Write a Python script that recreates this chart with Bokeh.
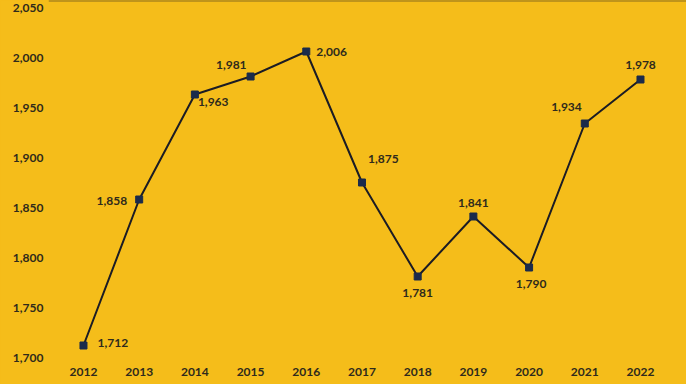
from bokeh.plotting import figure
from bokeh.models import ColumnDataSource, Range1d, FixedTicker, CustomJSTickFormatter, Span
from bokeh.core.properties import value
from bokeh.embed import file_html
from bokeh.resources import INLINE

years = [2012, 2013, 2014, 2015, 2016, 2017, 2018, 2019, 2020, 2021, 2022]
counts = [1712, 1858, 1963, 1981, 2006, 1875, 1781, 1841, 1790, 1934, 1978]
y_ticks = [1700, 1750, 1800, 1850, 1900, 1950, 2000, 2050]

# label placement (pixel offsets relative to each point)
lab_dx = [14, -12, 3, -4, 10, 6, 0, 0, 2, -3, 0]
lab_dy = [-3, 1, 7, -12, 0, -24, 16, -14, 16, -17, -15]
lab_align = ["left", "right", "left", "right", "left", "left", "center", "center", "center", "right", "center"]

BG = "#F5BD1A"
TXT = "#2F2A1C"

labels = ["{:,}".format(v) for v in counts]
src = ColumnDataSource(dict(x=years, y=counts, lab=labels, dx=lab_dx, dy=lab_dy, al=lab_align))

p = figure(width=686, height=384, output_backend="svg", toolbar_location=None,
           x_range=Range1d(2011.372, 2022.826), y_range=Range1d(1695, 2057),
           min_border_left=48, min_border_right=0, min_border_top=0, min_border_bottom=22)
p.background_fill_color = BG
p.border_fill_color = BG
p.outline_line_color = None
p.xgrid.visible = False
p.ygrid.visible = False

p.line("x", "y", source=src, line_color="#1C1C24", line_width=2)
p.scatter("x", "y", source=src, marker="square", size=7, fill_color="#1B2B4B", line_color="#1B2B4B")
p.text("x", "y", text="lab", source=src, x_offset="dx", y_offset="dy", text_align="al",
       text_baseline="middle", text_font=value("Lato"), text_font_style="bold",
       text_font_size="12px", text_color=TXT)

p.add_layout(Span(location=2057, dimension="width", line_color="#8A6D1C", line_width=2))

for ax in (p.xaxis[0], p.yaxis[0]):
    ax.axis_line_color = None
    ax.major_tick_line_color = None
    ax.minor_tick_line_color = None
    ax.major_tick_out = 0
    ax.major_tick_in = 0
    ax.minor_tick_out = 0
    ax.minor_tick_in = 0
    ax.major_label_text_font = "Lato"
    ax.major_label_text_font_style = "bold"
    ax.major_label_text_font_size = "12px"
    ax.major_label_text_color = TXT

p.xaxis[0].ticker = FixedTicker(ticks=years)
p.xaxis[0].major_label_standoff = 5
p.yaxis[0].ticker = FixedTicker(ticks=y_ticks)
p.yaxis[0].major_label_standoff = 5
p.yaxis[0].formatter = CustomJSTickFormatter(code="return tick.toLocaleString('en-US');")

html = file_html(p, INLINE)
html = html.replace("<head>", "<head><style>html,body{margin:0;padding:0;background:%s;}</style>" % BG, 1)
open("out.html", "w").write(html)
